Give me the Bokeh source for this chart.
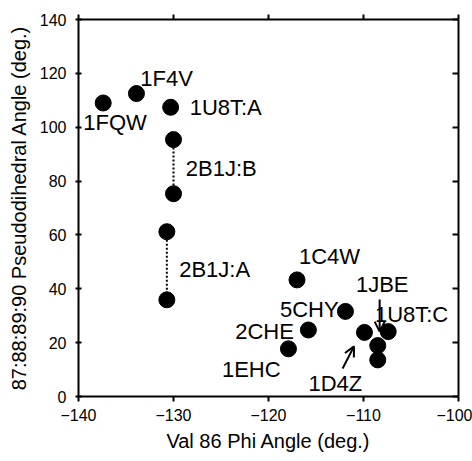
from bokeh.plotting import figure
from bokeh.models import LinearAxis, FixedTicker, Arrow, OpenHead, ColumnDataSource, Range1d
from bokeh.core.properties import value
from bokeh.embed import file_html
from bokeh.resources import INLINE

# Data
phi = [-137.4, -133.9, -130.3, -130.0, -130.0, -130.7, -130.7, -117.0, -111.9, -115.8, -117.9, -109.9, -107.4, -108.5, -108.5]
pseudo = [109.0, 112.5, 107.4, 95.4, 75.3, 61.2, 35.9, 43.3, 31.6, 24.7, 17.7, 23.8, 24.1, 18.9, 13.6]

# Labels (text, anchor position in data units)
label_text = ["1FQW", "1F4V", "1U8T:A", "2B1J:B", "2B1J:A", "1C4W", "5CHY", "2CHE", "1EHC", "1JBE", "1U8T:C", "1D4Z"]
label_x = [-139.5, -133.5, -128.3, -128.7, -129.4, -116.8, -118.8, -123.5, -124.9, -110.8, -108.8, -115.8]
label_y = [101.7, 118.0, 107.4, 84.5, 47.2, 52.1, 32.2, 24.2, 9.9, 41.5, 30.4, 4.7]

# Dotted connectors between paired chains (2B1J:B, 2B1J:A)
pair_x = [[-130.0, -130.0], [-130.7, -130.7]]
pair_y = [[95.4, 75.3], [61.2, 35.9]]

# Arrows (x_start, y_start, x_end, y_end)
arrows = [(-108.3, 36.0, -108.3, 24.1), (-112.2, 10.4, -111.0, 18.6)]

x_ticks = [-140, -130, -120, -110, -100]
y_ticks = [0, 20, 40, 60, 80, 100, 120, 140]

FONT = "Liberation Sans"

p = figure(width=472, height=461, output_backend="svg", toolbar_location=None,
           x_range=Range1d(-140, -100), y_range=Range1d(0, 140),
           min_border_left=78, min_border_right=14, min_border_top=19, min_border_bottom=65,
           x_axis_label="Val 86 Phi Angle (deg.)",
           y_axis_label="87:88:89:90 Pseudodihedral Angle (deg.)")
p.outline_line_color = None
p.xgrid.visible = False
p.ygrid.visible = False
p.background_fill_color = "white"
p.border_fill_color = "white"

for ax in [p.xaxis[0], p.yaxis[0]]:
    ax.axis_line_width = 2
    ax.axis_line_color = "black"
    ax.major_tick_line_width = 2
    ax.minor_tick_line_color = None
    ax.major_label_text_font = FONT
    ax.major_label_text_font_size = "16px"
    ax.major_label_text_color = "black"
    ax.axis_label_text_font = FONT
    ax.axis_label_text_font_size = "20px"
    ax.axis_label_text_font_style = "normal"
    ax.axis_label_text_color = "black"

p.xaxis[0].ticker = FixedTicker(ticks=x_ticks)
p.xaxis[0].major_tick_out = 5
p.xaxis[0].major_tick_in = 0
p.xaxis[0].major_label_standoff = 7
p.xaxis[0].axis_label_standoff = 6

p.yaxis[0].ticker = FixedTicker(ticks=y_ticks)
p.yaxis[0].major_tick_out = 3
p.yaxis[0].major_tick_in = 3
p.yaxis[0].major_label_standoff = 9
p.yaxis[0].axis_label_standoff = 7

top = LinearAxis(ticker=FixedTicker(ticks=x_ticks))
right = LinearAxis(ticker=FixedTicker(ticks=y_ticks))
for ax, tin, tout in [(top, 0, 5), (right, 6, 0)]:
    ax.axis_line_width = 2
    ax.axis_line_color = "black"
    ax.major_tick_line_width = 2
    ax.major_tick_in = tin
    ax.major_tick_out = tout
    ax.minor_tick_line_color = None
    ax.major_label_text_font_size = "0px"
    ax.major_label_standoff = 0
    ax.major_label_text_alpha = 0
p.add_layout(top, "above")
p.add_layout(right, "right")

# dotted connectors
p.multi_line(xs=pair_x, ys=pair_y, line_color="black", line_width=2, line_dash="2 2")

# points
src = ColumnDataSource(dict(x=phi, y=pseudo))
p.scatter("x", "y", source=src, size=16, color="black")

# labels
lsrc = ColumnDataSource(dict(x=label_x, y=label_y, t=label_text))
p.text("x", "y", text="t", source=lsrc, text_font=value(FONT), text_font_size="22px",
       text_align="left", text_baseline="middle", text_color="black")

for xs, ys, xe, ye in arrows:
    p.add_layout(Arrow(end=OpenHead(size=10, line_width=2, line_color="black"),
                       x_start=xs, y_start=ys, x_end=xe, y_end=ye,
                       line_width=2, line_color="black"))

open("out.html", "w").write(file_html(p, INLINE))
